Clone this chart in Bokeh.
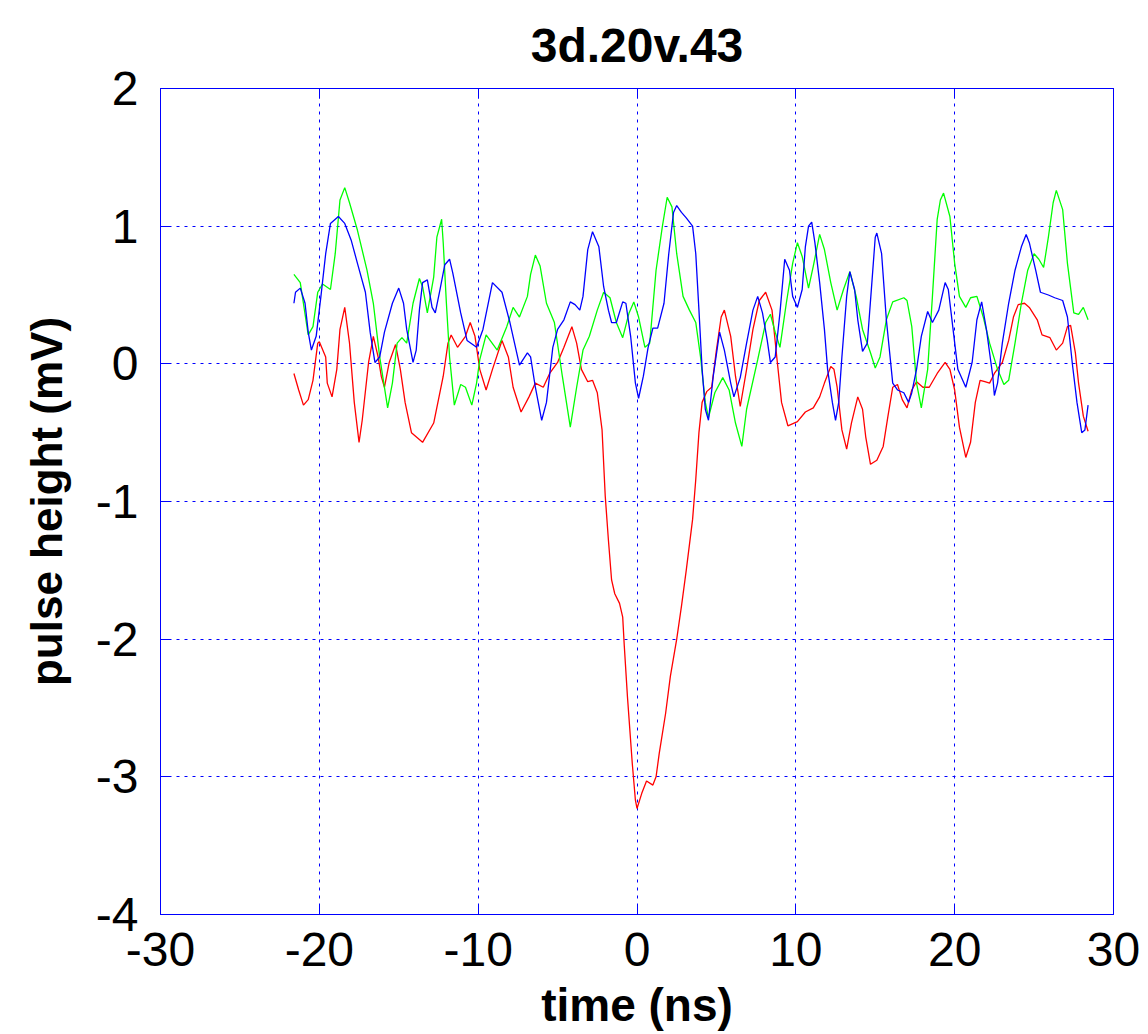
from bokeh.plotting import figure
from bokeh.models import Range1d, FixedTicker, LinearAxis, CustomJSTickFormatter
from bokeh.embed import file_html
from bokeh.resources import INLINE

# ---- data (time in ns, pulse height in mV) ----
t_green = [-21.6, -21.2, -20.7, -20.4, -20.1, -19.8, -19.3, -19.0, -18.7, -18.4, -18.1, -17.6, -17.0, -16.6, -16.2,
           -15.7, -15.4, -15.1, -14.8, -14.5, -14.1, -13.7, -13.5, -13.2, -12.8, -12.6, -12.3, -12.2, -12.0, -11.8,
           -11.5, -11.1, -10.8, -10.4, -10.1, -9.9, -9.5, -8.8, -8.2, -7.8, -7.4, -6.9, -6.7, -6.4, -6.1, -5.7, -5.2,
           -4.7, -4.2, -3.8, -3.4, -3.0, -2.5, -2.1, -1.7, -1.3, -0.9, -0.5, -0.2, 0.1, 0.5, 0.8, 1.2, 1.6, 1.9, 2.2,
           2.5, 2.9, 3.3, 3.7, 4.0, 4.3, 4.5, 4.9, 5.4, 5.8, 6.2, 6.6, 6.9, 7.6, 8.1, 8.4, 8.7, 9.0, 9.4, 9.8, 10.1,
           10.4, 10.8, 11.1, 11.5, 11.8, 12.2, 12.6, 13.0, 13.4, 13.8, 14.2, 14.7, 15.0, 15.3, 15.7, 16.1, 16.8, 17.0,
           17.3, 17.6, 17.9, 18.3, 18.6, 18.9, 19.1, 19.3, 19.7, 20.0, 20.3, 20.7, 21.0, 21.4, 21.8, 22.2, 22.7, 23.1,
           23.4, 23.8, 24.2, 24.6, 25.0, 25.3, 25.6, 25.9, 26.2, 26.4, 26.8, 27.1, 27.5, 27.8, 28.1, 28.4]
v_green = [0.65, 0.59, 0.21, 0.27, 0.52, 0.58, 0.54, 0.80, 1.19, 1.28, 1.17, 0.97, 0.68, 0.44, 0.05,
           -0.32, -0.14, 0.15, 0.19, 0.15, 0.44, 0.62, 0.56, 0.37, 0.63, 0.92, 1.05, 0.88, 0.44, 0.05,
           -0.30, -0.15, -0.17, -0.30, -0.14, 0.03, 0.21, 0.10, 0.27, 0.41, 0.34, 0.49, 0.65, 0.79, 0.71, 0.44, 0.30,
           -0.09, -0.46, -0.17, 0.10, 0.20, 0.39, 0.52, 0.48, 0.30, 0.19, 0.37, 0.45, 0.34, 0.12, 0.15, 0.68, 1.00, 1.21, 1.14,
           0.80, 0.49, 0.39, 0.30, 0.05, -0.28, -0.39, -0.21, -0.10, -0.19, -0.43, -0.60, -0.33, 0.03, 0.30, 0.36, 0.23, 0.12, 0.44, 0.73, 0.88,
           0.78, 0.55, 0.71, 0.94, 0.83, 0.59, 0.39, 0.54, 0.67, 0.49, 0.25, 0.08, -0.03, 0.05, 0.32, 0.45, 0.48, 0.46,
           0.27, -0.14, -0.32, -0.04, 0.49, 1.05, 1.19, 1.24, 1.07, 0.73, 0.49, 0.41, 0.48, 0.49, 0.34, 0.15, -0.04, -0.15,
           -0.12, 0.15, 0.44, 0.68, 0.80, 0.76, 0.70, 0.92, 1.17, 1.26, 1.12, 0.73, 0.37, 0.36, 0.41, 0.32]

t_red = [-21.6, -21.3, -21.0, -20.7, -20.4, -20.1, -20.0, -19.6, -19.5, -19.2, -18.9, -18.7, -18.4, -18.1, -17.8,
         -17.5, -17.3, -16.9, -16.6, -16.3, -16.1, -15.9, -15.6, -15.2, -14.9, -14.6, -14.2, -13.5, -12.8, -12.2,
         -11.9, -11.7, -11.3, -10.8, -10.5, -10.2, -9.9, -9.5, -9.1, -8.5, -8.1, -7.8, -7.3, -6.8, -6.4, -5.9, -5.5,
         -5.0, -4.6, -4.1, -3.8, -3.5, -3.1, -2.8, -2.5, -2.2, -2.0, -1.8, -1.6, -1.4, -1.1, -0.9, -0.8, -0.6, -0.3,
         -0.1, 0.0, 0.3, 0.6, 1.0, 1.2, 1.4, 1.8, 2.1, 2.5, 2.8, 3.1, 3.5, 3.7, 3.9, 4.1, 4.4, 4.7, 5.0, 5.3, 5.5,
         5.9, 6.2, 6.5, 6.9, 7.3, 7.7, 8.1, 8.5, 8.8, 9.1, 9.5, 10.1, 10.6, 11.1, 11.5, 11.8, 12.2, 12.4, 12.6, 12.9,
         13.2, 13.5, 13.9, 14.2, 14.4, 14.7, 15.1, 15.5, 15.8, 16.1, 16.4, 16.7, 17.0, 17.3, 17.6, 18.0, 18.4, 18.9,
         19.4, 19.7, 20.0, 20.3, 20.7, 21.0, 21.3, 21.6, 21.9, 22.2, 22.5, 23.0, 23.4, 23.7, 24.0, 24.4, 24.7, 25.2,
         25.5, 26.0, 26.4, 26.8, 27.1, 27.3, 27.6, 27.8, 28.1, 28.4]
v_red = [-0.07, -0.19, -0.30, -0.26, -0.12, 0.15, 0.16, 0.05, -0.14, -0.24, -0.04, 0.25, 0.41, 0.15, -0.28,
         -0.57, -0.41, 0.01, 0.20, 0.05, -0.09, -0.17, 0.01, 0.14, -0.04, -0.28, -0.50, -0.57, -0.43, -0.09,
         0.15, 0.21, 0.12, 0.20, 0.30, 0.20, -0.04, -0.19, -0.04, 0.17, 0.05, -0.17, -0.35, -0.24, -0.14, -0.17, -0.07,
         0.01, 0.12, 0.27, 0.15, -0.04, -0.13, -0.12, -0.21, -0.48, -0.96, -1.28, -1.57, -1.67, -1.74, -1.84, -2.05, -2.42, -2.90,
         -3.17, -3.23, -3.12, -3.03, -3.06, -3.00, -2.83, -2.54, -2.27, -2.00, -1.76, -1.50, -1.13, -0.84, -0.50, -0.28, -0.20, -0.17, 0.10, 0.34, 0.39,
         0.20, -0.09, -0.31, -0.04, 0.25, 0.46, 0.52, 0.39, 0.05, -0.28, -0.45, -0.42, -0.35, -0.32, -0.24, -0.14, -0.02, -0.04, -0.17, -0.48,
         -0.62, -0.43, -0.24, -0.33, -0.53, -0.73, -0.70, -0.60, -0.38, -0.17, -0.15, -0.26, -0.32, -0.19, -0.13, -0.17, -0.17, -0.07,
         0.01, -0.04, -0.19, -0.46, -0.68, -0.57, -0.28, -0.12, -0.13, -0.14, -0.07, 0.01, 0.17, 0.34, 0.43, 0.44, 0.41, 0.32,
         0.21, 0.19, 0.10, 0.15, 0.27, 0.28, 0.08, -0.14, -0.38, -0.49]

t_blue = [-21.6, -21.5, -21.2, -20.9, -20.7, -20.5, -20.2, -19.9, -19.6, -19.3, -18.8, -18.4, -18.0, -17.6, -17.1,
          -16.8, -16.5, -16.2, -15.9, -15.4, -15.0, -14.7, -14.5, -14.1, -13.9, -13.7, -13.5, -13.2, -12.9, -12.7,
          -12.4, -12.1, -11.8, -11.6, -11.1, -10.7, -10.1, -9.7, -9.1, -8.5, -8.0, -7.4, -6.9, -6.7, -6.4, -6.0, -5.7,
          -5.3, -5.0, -4.6, -4.2, -3.9, -3.6, -3.4, -3.1, -2.8, -2.4, -2.1, -1.8, -1.6, -1.3, -0.9, -0.7, -0.4, -0.1,
          0.1, 0.4, 0.7, 1.0, 1.3, 1.7, 2.0, 2.3, 2.5, 2.8, 3.1, 3.5, 3.7, 3.9, 4.1, 4.3, 4.5, 4.8, 5.2, 5.5, 5.9,
          6.1, 6.5, 6.9, 7.3, 7.6, 7.9, 8.2, 8.4, 8.7, 9.0, 9.3, 9.6, 9.8, 10.1, 10.4, 10.6, 10.8, 11.0, 11.2, 11.5,
          11.8, 12.0, 12.3, 12.5, 12.7, 12.9, 13.2, 13.4, 13.7, 13.9, 14.2, 14.5, 14.8, 15.0, 15.1, 15.4, 15.7, 16.1,
          16.4, 16.8, 17.1, 17.3, 17.6, 17.9, 18.3, 18.6, 19.0, 19.4, 19.6, 19.9, 20.2, 20.7, 21.1, 21.4, 21.7, 22.0,
          22.4, 22.5, 22.7, 23.0, 23.4, 23.8, 24.2, 24.5, 24.7, 25.1, 25.4, 25.9, 26.3, 26.8, 27.1, 27.4, 27.7, 28.0,
          28.2, 28.4]
v_blue = [0.44, 0.52, 0.55, 0.44, 0.23, 0.10, 0.20, 0.49, 0.80, 1.02, 1.07, 1.02, 0.90, 0.73, 0.52,
          0.23, 0.01, 0.05, 0.23, 0.44, 0.55, 0.44, 0.25, 0.01, 0.10, 0.39, 0.59, 0.61, 0.41, 0.37,
          0.54, 0.72, 0.76, 0.66, 0.37, 0.17, 0.12, 0.25, 0.59, 0.52, 0.30, -0.01, 0.08, 0.05, -0.17, -0.41, -0.28,
          0.12, 0.25, 0.32, 0.45, 0.43, 0.39, 0.49, 0.83, 0.96, 0.85, 0.56, 0.39, 0.30, 0.30, 0.45, 0.44, 0.20, -0.14,
          -0.25, -0.09, 0.12, 0.26, 0.26, 0.44, 0.80, 1.10, 1.15, 1.10, 1.06, 1.00, 0.80, 0.39, -0.04, -0.33, -0.41, -0.09, 0.23, 0.10, -0.14,
          -0.24, -0.10, 0.15, 0.39, 0.49, 0.37, 0.17, 0.01, 0.05, 0.37, 0.76, 0.68, 0.49, 0.41, 0.54, 0.85, 1.00, 1.03, 0.88, 0.59,
          0.25, -0.04, -0.28, -0.41, -0.28, 0.05, 0.49, 0.67, 0.54, 0.32, 0.09, 0.15, 0.61, 0.92, 0.95, 0.80, 0.32, -0.14,
          -0.19, -0.21, -0.28, -0.21, -0.04, 0.20, 0.38, 0.30, 0.39, 0.59, 0.54, 0.25, -0.04, -0.17, 0.01, 0.32, 0.45, 0.25,
          -0.09, -0.23, -0.14, 0.15, 0.44, 0.68, 0.85, 0.94, 0.88, 0.68, 0.52, 0.50, 0.48, 0.46, 0.34, 0.01, -0.28, -0.50,
          -0.48, -0.30]

x_ticks = [-30, -20, -10, 0, 10, 20, 30]
y_ticks = [-4, -3, -2, -1, 0, 1, 2]
title_text = "3d.20v.43"

FONT = "Liberation Sans"
AX_BLUE = "#0000ff"

p = figure(width=1140, height=1033, output_backend="svg", toolbar_location=None,
           x_range=Range1d(-30, 30), y_range=Range1d(-4, 2),
           min_border_left=160, min_border_right=27, min_border_top=88, min_border_bottom=112,
           title=title_text)

p.title.align = "center"
p.title.text_font = FONT
p.title.text_font_size = "48px"
p.title.text_font_style = "bold"
p.title.text_color = "black"
p.title.standoff = 33

p.outline_line_color = AX_BLUE
p.outline_line_width = 1
p.background_fill_color = "white"
p.border_fill_color = "white"

hyphen_fmt = CustomJSTickFormatter(code="return String(tick);")

for ax in (p.xaxis[0], p.yaxis[0]):
    ax.axis_line_color = AX_BLUE
    ax.major_tick_line_color = AX_BLUE
    ax.major_tick_in = 10
    ax.major_tick_out = 0
    ax.minor_tick_line_color = None
    ax.major_label_text_font = FONT
    ax.major_label_text_font_size = "48px"
    ax.major_label_text_color = "black"
    ax.axis_label_text_font = FONT
    ax.axis_label_text_font_style = "bold"
    ax.axis_label_text_color = "black"
    ax.formatter = hyphen_fmt

p.xaxis[0].ticker = FixedTicker(ticks=x_ticks)
p.yaxis[0].ticker = FixedTicker(ticks=y_ticks)
p.xaxis[0].axis_label = "time (ns)"
p.xaxis[0].axis_label_text_font_size = "46px"
p.xaxis[0].major_label_standoff = 18
p.xaxis[0].axis_label_standoff = 10
p.yaxis[0].axis_label = "pulse height (mV)"
p.yaxis[0].axis_label_text_font_size = "44px"
p.yaxis[0].major_label_standoff = 22
p.yaxis[0].axis_label_standoff = 22

# box axes on top and right, ticks inside, no labels
blank_fmt = CustomJSTickFormatter(code="return '';")
top_ax = LinearAxis(ticker=FixedTicker(ticks=x_ticks), formatter=blank_fmt,
                    axis_line_color=AX_BLUE, major_tick_line_color=AX_BLUE,
                    major_tick_in=10, major_tick_out=0, minor_tick_line_color=None,
                    major_label_standoff=0, major_label_text_font_size="1px")
right_ax = LinearAxis(ticker=FixedTicker(ticks=y_ticks), formatter=blank_fmt,
                      axis_line_color=AX_BLUE, major_tick_line_color=AX_BLUE,
                      major_tick_in=10, major_tick_out=0, minor_tick_line_color=None,
                      major_label_standoff=0, major_label_text_font_size="1px")
p.add_layout(top_ax, "above")
p.add_layout(right_ax, "right")

for g in (p.xgrid[0], p.ygrid[0]):
    g.grid_line_color = AX_BLUE
    g.grid_line_dash = "3 5"
    g.grid_line_width = 1
p.xgrid[0].ticker = FixedTicker(ticks=x_ticks)
p.ygrid[0].ticker = FixedTicker(ticks=y_ticks)

p.line(t_red, v_red, line_color="#ff0000", line_width=1.3)
p.line(t_green, v_green, line_color="#00ff00", line_width=1.3)
p.line(t_blue, v_blue, line_color="#0000ff", line_width=1.3)

open("out.html", "w").write(file_html(p, INLINE))
